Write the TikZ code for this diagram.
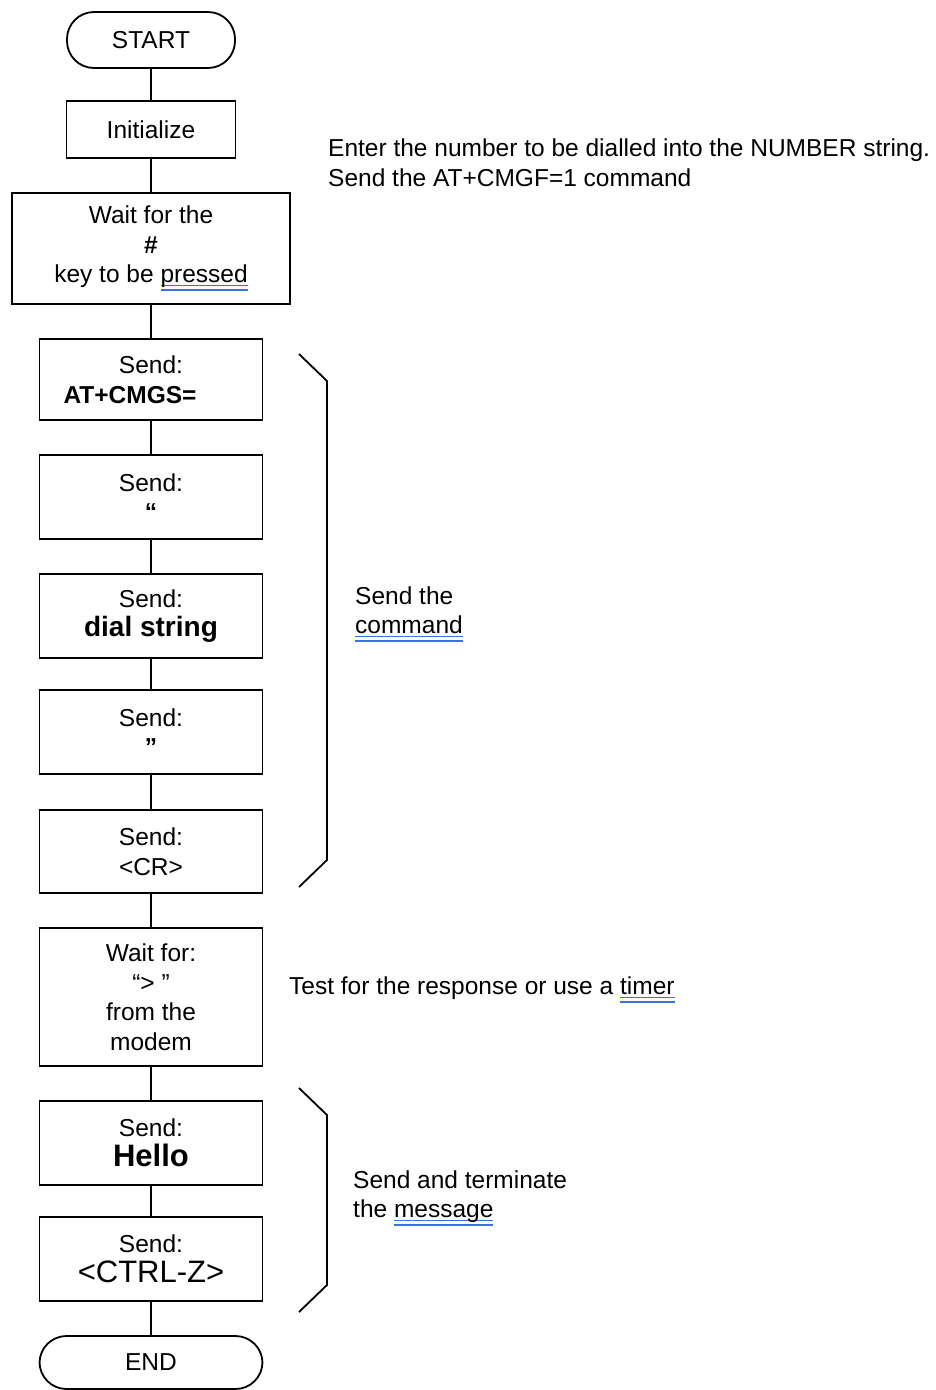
\documentclass[tikz,border=0pt]{standalone}
\usepackage{fontspec}
\setmainfont{Liberation Sans}
\usetikzlibrary{calc}
\definecolor{spellblue}{RGB}{62,112,226}
\newcommand{\spellmark}[1]{\setbox0\hbox{#1}\rlap{\color{spellblue}\rule[-3.5pt]{\wd0}{1.6pt}}\rlap{\color{spellblue}\rule[-8pt]{\wd0}{1.6pt}}\box0}

\begin{document}
\begin{tikzpicture}[x=1pt,y=-1pt,font=\fontsize{24.5}{29.5}\selectfont,
    flowbox/.style={draw, line width=1.8pt, minimum width=223pt, minimum height=84pt, inner sep=0pt, align=center},
    terminal/.style={flowbox, rounded corners=27pt},
    note/.style={anchor=west, align=left, inner sep=0pt}]
        \useasboundingbox (0,0) rectangle (936,1390);
        % flowchart steps
        \node[terminal, minimum width=168pt, minimum height=56pt] (start) at (151,40) {START};
        \node[flowbox, minimum width=169pt, minimum height=57pt] (init) at (151,129.5) {Initialize};
        \node[flowbox, minimum width=278pt, minimum height=111pt] (waitkey) at (151,248.5)
            {Wait for the\\\textbf{\#}\\key to be \spellmark{pressed}};
        \node[flowbox, minimum height=81pt] (cmgs) at (151,379.5)
            {Send:\\\makebox[175pt][l]{\textbf{AT+CMGS=}}};
        \node[flowbox] (openq) at (151,497) {Send:\\\textbf{“}};
        \node[flowbox] (dial) at (151,616) {Send:\\{\fontsize{28}{31}\selectfont\textbf{dial string}}};
        \node[flowbox] (closeq) at (151,732) {Send:\\\textbf{”}};
        \node[flowbox, minimum height=83pt] (cr) at (151,851.5) {Send:\\<CR>};
        \node[flowbox, minimum height=138pt] (waitresp) at (151,997)
            {Wait for:\\“> ”\\from the\\modem};
        \node[flowbox] (hello) at (151,1143) {Send:\\{\fontsize{31}{33}\selectfont\textbf{Hello}}};
        \node[flowbox] (ctrlz) at (151,1259) {Send:\\{\fontsize{31}{33}\selectfont <CTRL-Z>}};
        \node[terminal, minimum height=53pt] (end) at (151,1362.5) {END};
        % connectors
        \foreach \a/\b in {start/init, init/waitkey, waitkey/cmgs, cmgs/openq, openq/dial,
                           dial/closeq, closeq/cr, cr/waitresp, waitresp/hello, hello/ctrlz, ctrlz/end}
        {
            \draw[line width=1.8pt] (\a) -- (\b);
        }
        % notes
        \node[note] (setup) at (328,162.5)
            {Enter the number to be dialled into the NUMBER string.\\Send the AT+CMGF=1 command};
        \node[note] (sendcmd) at (355,614) {Send the\\\spellmark{command}};
        \node[note] (response) at (289,990) {Test for the response or use a \spellmark{timer}};
        \node[note] (sendmsg) at (353,1198) {Send and terminate\\the \spellmark{message}};
        % brackets
        \draw[line width=1.8pt, line join=miter] (299,354) -- (327,381) -- (327,860) -- (299,887);
        \draw[line width=1.8pt, line join=miter] (299,1088) -- (327,1115) -- (327,1285) -- (299,1312);
\end{tikzpicture}
\end{document}
